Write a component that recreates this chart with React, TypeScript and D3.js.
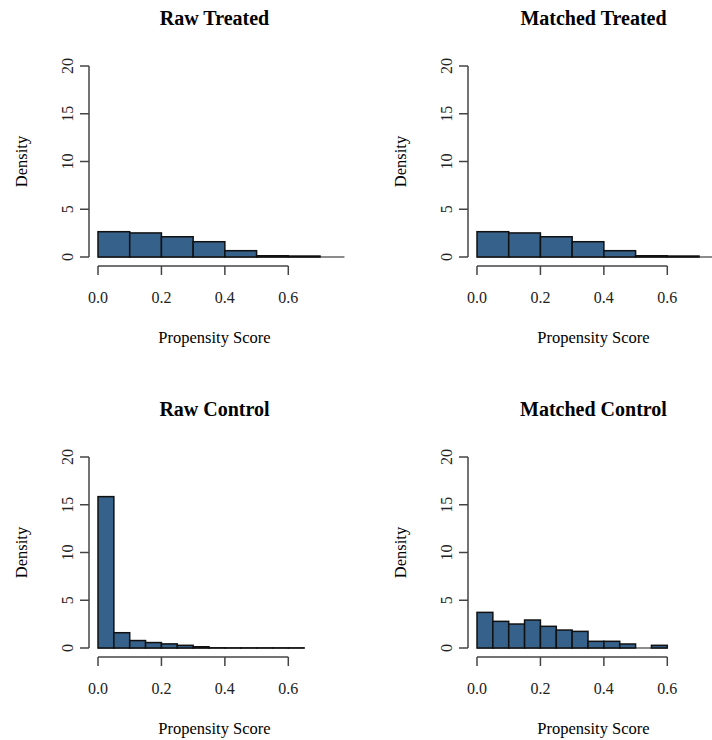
import React from "react";
import * as d3 from "d3";

const W = 712;
const H = 740;

const panelTitles = ["Raw Treated", "Matched Treated", "Raw Control", "Matched Control"];
const xTicks = [0, 0.2, 0.4, 0.6];
const yTicks = [0, 5, 10, 15, 20];

const treatedBinWidth = 0.1;
const rawTreatedDensity = [2.65, 2.52, 2.12, 1.6, 0.66, 0.13, 0.1];
const matchedTreatedDensity = [2.65, 2.52, 2.12, 1.6, 0.66, 0.13, 0.1];
const controlBinWidth = 0.05;
const rawControlDensity = [15.85, 1.6, 0.78, 0.57, 0.43, 0.28, 0.13, 0.02, 0.01, 0.01, 0.01, 0.01, 0.01];
const matchedControlDensity = [3.73, 2.79, 2.51, 2.93, 2.27, 1.88, 1.74, 0.7, 0.7, 0.42, 0, 0.28];
const baselineEnds = [0.777, 0.777, 0.65, 0.6];

const panels = [
  { title: panelTitles[0], data: rawTreatedDensity, bw: treatedBinWidth, end: baselineEnds[0], ox: 0, oy: 0 },
  { title: panelTitles[1], data: matchedTreatedDensity, bw: treatedBinWidth, end: baselineEnds[1], ox: 379, oy: 0 },
  { title: panelTitles[2], data: rawControlDensity, bw: controlBinWidth, end: baselineEnds[2], ox: 0, oy: 391 },
  { title: panelTitles[3], data: matchedControlDensity, bw: controlBinWidth, end: baselineEnds[3], ox: 379, oy: 391 },
];

const FONT = "'Liberation Serif', 'Times New Roman', serif";
const FILL = "#36618a";
const AXIS = "#444";

function Panel({ p }: { p: any }) {
  const x = d3.scaleLinear().domain([0, 0.6]).range([98 + p.ox, 288.3 + p.ox]);
  const y = d3.scaleLinear().domain([0, 20]).range([257 + p.oy, 66 + p.oy]);
  const axisX = 89 + p.ox;
  const axisY = 266 + p.oy;
  const bins = p.data.map((d: number, i: number) => ({ x0: i * p.bw, x1: (i + 1) * p.bw, d }));
  const cx = 214.5 + p.ox;
  return (
    <g>
      <text x={cx} y={25 + p.oy} textAnchor="middle" fontFamily={FONT} fontWeight="bold" fontSize={20} fill="#000">
        {p.title}
      </text>
      <line x1={x(0)} x2={x(p.end)} y1={y(0)} y2={y(0)} stroke="#666" strokeWidth={1.5} />
      {bins.map((b: any, i: number) => (
        <rect
          key={i}
          x={x(b.x0)}
          width={x(b.x1) - x(b.x0)}
          y={y(b.d)}
          height={y(0) - y(b.d)}
          fill={FILL}
          stroke="#111"
          strokeWidth={1.5}
        />
      ))}
      {/* y axis */}
      <line x1={axisX} x2={axisX} y1={y(0)} y2={y(20)} stroke={AXIS} strokeWidth={1.5} />
      {yTicks.map((t) => (
        <g key={t}>
          <line x1={axisX - 9} x2={axisX} y1={y(t)} y2={y(t)} stroke={AXIS} strokeWidth={1.5} />
          <text
            transform={`translate(${axisX - 22},${y(t)}) rotate(-90)`}
            textAnchor="middle"
            dy="0.35em"
            fontFamily={FONT}
            fontSize={16}
            fill="#222"
          >
            {t}
          </text>
        </g>
      ))}
      <text
        transform={`translate(${21 + p.ox},${161.5 + p.oy}) rotate(-90)`}
        textAnchor="middle"
        dy="0.35em"
        fontFamily={FONT}
        fontSize={16.5}
        fill="#000"
      >
        Density
      </text>
      {/* x axis */}
      <line x1={x(0)} x2={x(0.6)} y1={axisY} y2={axisY} stroke={AXIS} strokeWidth={1.5} />
      {xTicks.map((t) => (
        <g key={t}>
          <line x1={x(t)} x2={x(t)} y1={axisY} y2={axisY + 9} stroke={AXIS} strokeWidth={1.5} />
          <text x={x(t)} y={297 + p.oy} textAnchor="middle" dy="0.35em" fontFamily={FONT} fontSize={16} fill="#222">
            {d3.format(".1f")(t)}
          </text>
        </g>
      ))}
      <text x={cx} y={337 + p.oy} textAnchor="middle" dy="0.35em" fontFamily={FONT} fontSize={16.5} fill="#000">
        Propensity Score
      </text>
    </g>
  );
}

export default function App() {
  return (
    <svg width={W} height={H} style={{ display: "block", position: "absolute", left: 0, top: 0, background: "#fff" }}>
      <rect width={W} height={H} fill="#fff" />
      {panels.map((p, i) => (
        <Panel key={i} p={p} />
      ))}
    </svg>
  );
}
